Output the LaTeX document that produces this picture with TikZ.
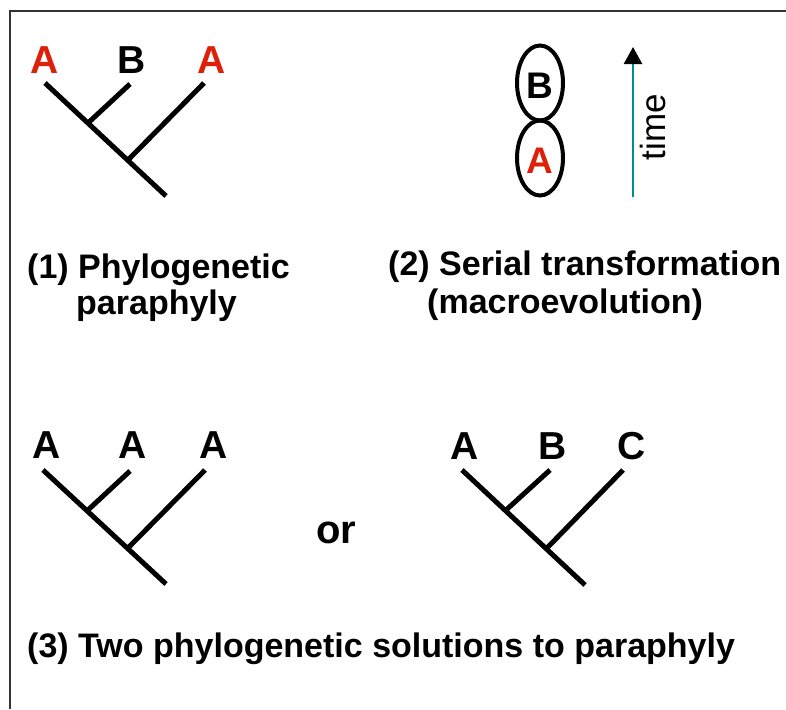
\documentclass[tikz,border=0pt]{standalone}
\usepackage{fontspec}
\setmainfont{Liberation Sans}
\usetikzlibrary{arrows.meta,shapes.geometric}
\definecolor{redA}{RGB}{222,32,10}
\definecolor{tealline}{RGB}{0,140,150}
\tikzset{
  branch/.style={line width=5pt, line cap=butt},
  leaf/.style={font=\fontsize{39}{39}\selectfont\bfseries, inner sep=0pt, anchor=base},
  captxt/.style={font=\fontsize{34}{36}\selectfont\bfseries, inner sep=0pt, anchor=base west},
  oval/.style={draw, line width=4pt, ellipse, minimum width=46pt, minimum height=75pt, inner sep=0pt},
}
\begin{document}
\begin{tikzpicture}[x=1pt,y=-1pt]
\useasboundingbox (0,0) rectangle (786,709);
\fill[white] (0,0) rectangle (786,709);
% frame
\coordinate (fc) at (10,11);
\coordinate (fr) at (786,11);
\coordinate (fb) at (10,709);
\draw[line width=1.6pt, black!80] (fb) -- (fc) -- (fr);

% ---- tree 1
\coordinate (t1a) at (45,83);
\coordinate (t1b) at (130,84);
\coordinate (t1c) at (204,83);
\coordinate (t1r) at (166,196);
\coordinate (t1j1) at (88,123);
\coordinate (t1j2) at (128,160);
\draw[branch] (t1a) -- (t1r);
\draw[branch] (t1b) -- (t1j1);
\draw[branch] (t1c) -- (t1j2);
\node[leaf, text=redA] (l1a) at (45,73) {A};
\node[leaf] (l1b) at (132,73) {B};
\node[leaf, text=redA] (l1c) at (212,73) {A};

\node[captxt] (c1a) at (27,278) {(1) Phylogenetic};
\node[captxt] (c1b) at (76,314) {paraphyly};

% ---- serial transformation
\node[oval] (eB) at (540,83) {};
\node[oval] (eA) at (540,158) {};
\node[font=\fontsize{37}{37}\selectfont\bfseries, inner sep=0pt, anchor=base] (lB) at (540,98) {B};
\node[font=\fontsize{37}{37}\selectfont\bfseries, inner sep=0pt, anchor=base, text=redA] (lA) at (540,173) {A};
\coordinate (tb) at (633,197);
\coordinate (tt) at (633,47);
\draw[tealline, line width=2.5pt, -{Triangle[width=18pt,length=17pt,color=black]}] (tb) -- (tt);
\node[font=\fontsize{35}{35}\selectfont, inner sep=0pt, anchor=base, rotate=90] (time) at (665,127) {time};

\node[captxt] (c2a) at (388,275) {(2) Serial transformation};
\node[captxt] (c2b) at (427,313) {(macroevolution)};

% ---- tree 3a
\coordinate (t3a) at (43,470);
\coordinate (t3b) at (130,471);
\coordinate (t3c) at (205,470);
\coordinate (t3r) at (166,584);
\coordinate (t3j1) at (88,510);
\coordinate (t3j2) at (128,548);
\draw[branch] (t3a) -- (t3r);
\draw[branch] (t3b) -- (t3j1);
\draw[branch] (t3c) -- (t3j2);
\node[leaf] (l3a) at (47,458) {A};
\node[leaf] (l3b) at (133,458) {A};
\node[leaf] (l3c) at (214,458) {A};

\node[font=\fontsize{40}{40}\selectfont\bfseries, inner sep=0pt, anchor=base] (or) at (336,543) {or};

% ---- tree 3b
\coordinate (t4a) at (462,470);
\coordinate (t4b) at (550,470);
\coordinate (t4c) at (623,470);
\coordinate (t4r) at (585,585);
\coordinate (t4j1) at (505,511);
\coordinate (t4j2) at (547,548);
\draw[branch] (t4a) -- (t4r);
\draw[branch] (t4b) -- (t4j1);
\draw[branch] (t4c) -- (t4j2);
\node[leaf] (l4a) at (465,459) {A};
\node[leaf] (l4b) at (553,459) {B};
\node[leaf] (l4c) at (632,459) {C};

\node[captxt] (c3) at (27,657) {(3) Two phylogenetic solutions to paraphyly};
\end{tikzpicture}
\end{document}
